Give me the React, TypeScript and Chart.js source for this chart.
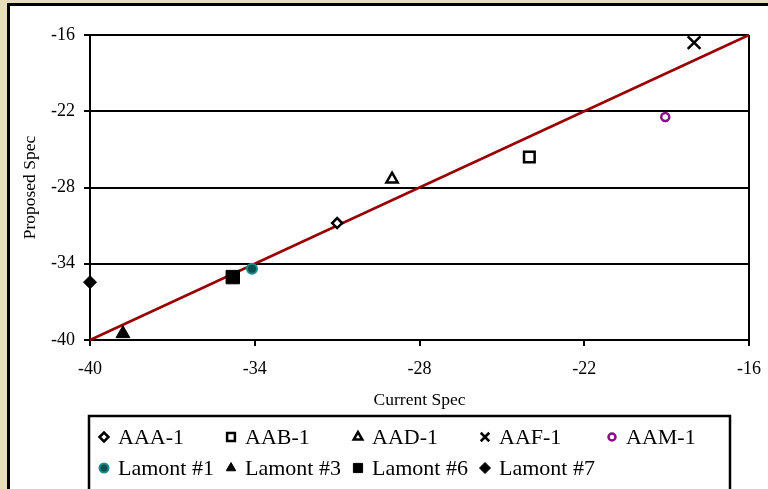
import React, { useEffect, useRef } from "react";
import { Chart, registerables } from "chart.js";
import { drawPoint } from "chart.js/helpers";

Chart.register(...registerables);

const seriesNames = ["AAA-1", "AAB-1", "AAD-1", "AAF-1", "AAM-1", "Lamont #1", "Lamont #3", "Lamont #6", "Lamont #7"];
const currentSpec = [-31.0, -24.0, -29.0, -18.0, -19.05, -34.1, -38.8, -34.8, -40.0];
const proposedSpec = [-30.8, -25.6, -27.35, -16.6, -22.45, -34.4, -39.5, -35.05, -35.45];
const fitLineX = [-40, -16];
const fitLineY = [-40, -16];
const tickMin = -40;
const tickMax = -16;
const tickStep = 6;

const SERIF = '"Liberation Serif", "Times New Roman", serif';

type MarkerStyle = { pointStyle: string; radius: number; bg: string; border: string; bw: number; legendRadius: number };
const markerStyles: MarkerStyle[] = [
  { pointStyle: "rectRot", radius: 5, bg: "#fff", border: "#000", bw: 2.5, legendRadius: 4.5 },
  { pointStyle: "rect", radius: 7.5, bg: "#fff", border: "#000", bw: 2.5, legendRadius: 5.5 },
  { pointStyle: "triangle", radius: 6.5, bg: "#fff", border: "#000", bw: 2.5, legendRadius: 5 },
  { pointStyle: "crossRot", radius: 9, bg: "#000", border: "#000", bw: 2.5, legendRadius: 6 },
  { pointStyle: "circle", radius: 4, bg: "#fff", border: "#8b0a8b", bw: 2.5, legendRadius: 3.5 },
  { pointStyle: "circle", radius: 5, bg: "#0b4f4f", border: "#1c8c8c", bw: 2, legendRadius: 4.5 },
  { pointStyle: "triangle", radius: 8, bg: "#000", border: "#000", bw: 1, legendRadius: 5.5 },
  { pointStyle: "rect", radius: 9.5, bg: "#000", border: "#000", bw: 1, legendRadius: 6.5 },
  { pointStyle: "rectRot", radius: 6.5, bg: "#000", border: "#000", bw: 1, legendRadius: 5.5 },
];

const backgroundPlugin = {
  id: "panelBackground",
  beforeDraw(chart: any) {
    const ctx = chart.ctx;
    ctx.save();
    ctx.fillStyle = "#e6ddbb";
    ctx.fillRect(0, 0, chart.width, chart.height);
    ctx.fillStyle = "#ffffff";
    ctx.fillRect(8.5, 4.5, chart.width + 20, chart.height + 20);
    ctx.lineWidth = 3;
    ctx.strokeStyle = "#000";
    ctx.strokeRect(8.5, 4.5, chart.width + 20, chart.height + 20);
    ctx.restore();
  },
};

const legendPlugin = {
  id: "gridLegend",
  afterDraw(chart: any) {
    const ctx = chart.ctx;
    ctx.save();
    ctx.lineWidth = 2.5;
    ctx.strokeStyle = "#000";
    ctx.strokeRect(89, 416, 641, 120);
    ctx.font = `22px ${SERIF}`;
    ctx.textBaseline = "middle";
    ctx.textAlign = "left";
    seriesNames.forEach((name, i) => {
      const row = i < 5 ? 0 : 1;
      const col = i < 5 ? i : i - 5;
      const cx = 104 + col * 127;
      const cy = 437 + row * 31;
      const m = markerStyles[i];
      ctx.fillStyle = m.bg;
      ctx.strokeStyle = m.border;
      ctx.lineWidth = m.bw;
      drawPoint(ctx, { pointStyle: m.pointStyle, radius: m.legendRadius, borderWidth: m.bw, rotation: 0 } as any, cx, cy);
      ctx.fillStyle = "#000";
      ctx.fillText(name, cx + 14, cy + 1);
    });
    ctx.restore();
  },
};

export default function App() {
  const ref = useRef<HTMLCanvasElement | null>(null);
  useEffect(() => {
    if (!ref.current) return;
    Chart.defaults.font.family = SERIF;
    Chart.defaults.color = "#000";
    const datasets: any[] = seriesNames.map((name, i) => ({
      type: "scatter",
      label: name,
      data: [{ x: currentSpec[i], y: proposedSpec[i] }],
      pointStyle: markerStyles[i].pointStyle,
      pointRadius: markerStyles[i].radius,
      pointBackgroundColor: markerStyles[i].bg,
      pointBorderColor: markerStyles[i].border,
      pointBorderWidth: markerStyles[i].bw,
      clip: false,
    }));
    datasets.push({
      type: "line",
      label: "fit",
      data: fitLineX.map((x, i) => ({ x, y: fitLineY[i] })),
      borderColor: "#990000",
      borderWidth: 2.5,
      pointRadius: 0,
      fill: false,
      clip: false,
    });
    const chart = new Chart(ref.current, {
      type: "scatter",
      data: { datasets },
      options: {
        responsive: false,
        animation: false,
        events: [],
        layout: { padding: { left: 0, top: 35, right: 19, bottom: 0 } },
        plugins: { legend: { display: false }, tooltip: { enabled: false } },
        scales: {
          x: {
            type: "linear",
            min: tickMin,
            max: tickMax,
            afterFit: (s: any) => { s.height = 149; s.paddingLeft = 0; s.paddingRight = 0; },
            ticks: { stepSize: tickStep, font: { size: 18 }, color: "#000", padding: 12, maxRotation: 0 },
            grid: {
              drawOnChartArea: true,
              color: (c: any) => (c.tick && c.tick.value === tickMax ? "#000" : "rgba(0,0,0,0)"),
              tickColor: "#000",
              lineWidth: 2,
              tickLength: 6,
            },
            border: { display: true, color: "#000", width: 2 },
            title: { display: true, text: "Current Spec", font: { size: 17.5 }, color: "#000", padding: { top: 0, bottom: 78.5 } },
          },
          y: {
            type: "linear",
            min: tickMin,
            max: tickMax,
            afterFit: (s: any) => { s.width = 90; s.paddingTop = 0; s.paddingBottom = 0; },
            ticks: { stepSize: tickStep, font: { size: 18 }, color: "#000", padding: 9 },
            grid: { color: "#000", tickColor: "#000", lineWidth: 2, tickLength: 6 },
            border: { display: true, color: "#000", width: 2 },
            title: { display: true, text: "Proposed Spec", font: { size: 17.5 }, color: "#000", padding: { top: 19.5, bottom: 0 } },
          },
        },
      },
      plugins: [backgroundPlugin, legendPlugin],
    } as any);
    return () => chart.destroy();
  }, []);
  return (
    <div style={{ position: "fixed", left: 0, top: 0, width: 768, height: 489 }}>
      <canvas ref={ref} width={768} height={489} style={{ display: "block" }} />
    </div>
  );
}
